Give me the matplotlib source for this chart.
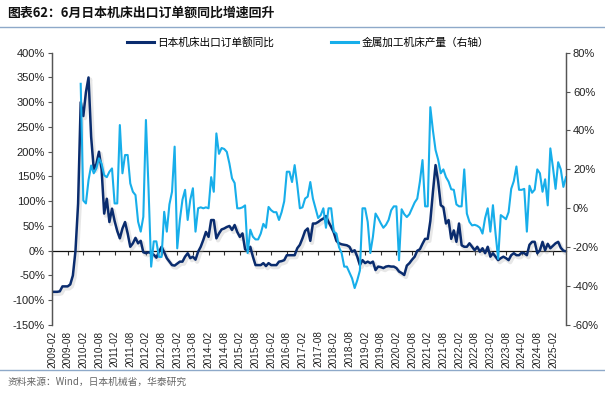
import numpy as np
import pandas as pd
import matplotlib
matplotlib.use("Agg")
import matplotlib.pyplot as plt
import matplotlib.patheffects as pe
from matplotlib.lines import Line2D

plt.rcParams['font.family'] = ['Liberation Sans', 'Noto Sans CJK SC', 'DejaVu Sans']

# ---------------- data (monthly, from 2009-02) ----------------
months = pd.period_range("2009-02", periods=198, freq="M").strftime("%Y-%m").tolist()

# 日本机床出口订单额同比 (%), left axis
orders_yoy = [
    -83, -83, -83, -82, -72, -72, -72, -68, -50, 0, 95,            # 2009-02..2009-12
    300, 272, 320, 350, 230, 165, 175, 200, 165, 75, 105, 58,      # 2010
    85, 60, 40, 25, 45, 58, 35, 8, 15, 26, 15, 20,                 # 2011
    -3, -5, -3, -5, -8, -14, -2, 8, -3, -15, -22, -29,             # 2012
    -30, -26, -22, -22, -12, -5, -15, -12, -18, -2, 8, 22,         # 2013
    38, 28, 62, 62, 25, 35, 43, 45, 48, 50, 42, 52,                # 2014
    38, 28, 35, 3, 0, 8, -12, -29, -29, -29, -25, -31,             # 2015
    -25, -29, -29, -29, -22, -21, -19, -9, -9, -9, -9, 5,          # 2016
    12, 25, 40, 45, 20, 55, 55, 58, 62, 65, 70, 58,                # 2017
    48, 37, 20, 15, 13, 12, 11, 8, -2, 1, -12, -29,                # 2018
    -19, -25, -22, -25, -22, -39, -32, -33, -35, -32, -31, -32,    # 2019
    -32, -35, -42, -45, -49, -30, -25, -18, -12, 0, 3, 14,         # 2020
    24, 24, 60, 119, 173, 140, 92, 88, 55, 62, 24, 41,             # 2021
    18, 55, 11, 8, 8, 15, 8, 1, 8, -2, 5, -5,                      # 2022
    8, -12, -5, -12, -19, -15, -12, -15, -19, -9, -5, -9,          # 2023
    -9, -4, -5, -9, 12, 18, 18, -5, 1, 18, 1, 14,                  # 2024
    5, 10, 15, 18, 6, 0, -1,                                       # 2025
]

# 金属加工机床产量同比 (%), right axis
output_yoy = [
    np.nan, np.nan, np.nan, np.nan, np.nan, np.nan, np.nan, np.nan, np.nan, np.nan, np.nan,
    64, 4, 2.5, 14.5, 22, 18, 20.5, 25.7, 23, 17, 16, 18.8,
    20.5, 2.5, 2.5, 42.8, 18, 27.4, 27.4, 12.8, 8.5, 6.8, -6.9, -12,
    -4.4, 45.4, 10, -30, -17, -17, -25, -25, -1.8, -12, 2, 8.5,
    31.7, -20.6, -6, 4.4, 9.5, -6, 4.4, 10.3, -12, 0, 0.5, 0,
    0.5, 0, 16, 8.5, 38.5, 28, 31, 30.5, 29, 23, 15.4, 13,
    0, 0, 0.5, 1.5, -23, -11, -14.6, -16, -16, -13, -8, -10,
    0.7, -1, -2, -2, -6, -2, 3.6, 18.8, 18.8, 13.5, 22.2, 12,
    0, 0.5, 5, 6, 13.5, 5, 0, -5, -3.5, 0, -10, 0,
    0, -12, -13, -20, -23, -30, -30, -33, -36, -41, -37, -32,
    0, 0, -7, -23, -14.6, -2.7, -5, -7.7, -10, -8.5, -6, -1,
    1, 1, -26.7, -0.5, -3, -4.5, -3, 0, 3, 5, 13.7, 24.8,
    1, 1, 52, 40, 30, 25, 18, 20, 16, 13.7, 9.8, 9.5,
    2, 1, 1, 20, -2.7, -7, -8.8, -8.5, -9, -10, -13, -5,
    0, -12, 1.6, -13, -26, -3.5, -4.5, -5.6, -2, 10, 14, 21.5,
    9.5, 9.5, 10, -12, 11.6, 8, 9.6, 20, 18, 8.5, 14.9, 1.5,
    30.8, 21, 10, 23.7, 20, 11, 16,
]

left_ticks = list(range(-150, 401, 50))
right_ticks = list(range(-60, 81, 20))
label_idx = list(range(0, 193, 6))

navy = "#0A2C6E"
sky = "#17AEEA"

# ---------------- figure ----------------
fig = plt.figure(figsize=(6.05, 3.93), dpi=100)
ax = fig.add_axes([52 / 605, 1 - 325 / 393, (566 - 52) / 605, (325 - 52.7) / 393])
axr = ax.twinx()

x = np.arange(len(months))
ax.plot(x, orders_yoy, color=navy, lw=1.8, solid_joinstyle="round",
        path_effects=[pe.SimpleLineShadow(offset=(1.2, -1.5), shadow_color="#b0b0b0", alpha=0.3,
                                          linewidth=3.0),
                      pe.Normal()], zorder=3)
axr.plot(x, output_yoy, color=sky, lw=1.5, solid_joinstyle="round", zorder=3)

ax.set_xlim(0, len(months) - 1)
ax.set_ylim(-150, 400)
axr.set_ylim(-60, 80)

ax.set_yticks(left_ticks)
ax.set_yticklabels([f"{v}%" for v in left_ticks])
axr.set_yticks(right_ticks)
axr.set_yticklabels([f"{v}%" for v in right_ticks])

ax.set_xticks(label_idx)
ax.set_xticklabels([months[i] for i in label_idx], rotation=90, fontsize=7.2, color="#222222")
ax.tick_params(axis="x", length=0, pad=4)
ax.tick_params(axis="y", labelsize=8, length=3, width=0.8, color="#555555", labelcolor="#222222", pad=2)
axr.tick_params(axis="y", labelsize=8, length=3, width=0.8, color="#555555", labelcolor="#222222", pad=2)

for a in (ax, axr):
    a.spines["top"].set_visible(False)
    a.spines["bottom"].set_visible(False)
    a.spines["left"].set_color("#555555")
    a.spines["right"].set_color("#555555")
    a.spines["left"].set_linewidth(0.9)
    a.spines["right"].set_linewidth(0.9)

# category axis crossing at 0 on the left axis
zero_ax = ax.secondary_xaxis(150 / 550)
zero_ax.set_xticks(label_idx)
zero_ax.set_xticklabels([])
zero_ax.tick_params(length=3, width=0.8, color="#333333", direction="out")
zero_ax.spines["bottom"].set_color("#111111")
zero_ax.spines["bottom"].set_linewidth(0.9)

# ---------------- texts ----------------
fig.text(0.012, 1 - 13 / 393, "图表62：6月日本机床出口订单额同比增速回升",
         fontsize=9.3, fontweight="bold", family=["Noto Sans CJK SC", "DejaVu Sans"],
         va="center", ha="left", color="#111111")
fig.add_artist(Line2D([0.0, 1.0], [1 - 27 / 393, 1 - 27 / 393], transform=fig.transFigure,
                      color="#8EA9C9", lw=1.0))
fig.add_artist(Line2D([0.0, 1.0], [1 - 370 / 393, 1 - 370 / 393], transform=fig.transFigure,
                      color="#8EA9C9", lw=1.0))
fig.text(0.012, 1 - 382 / 393, "资料来源：Wind，日本机械省，华泰研究",
         fontsize=7, family=["Noto Sans CJK SC", "DejaVu Sans"], color="#666666",
         va="center", ha="left")

handles = [Line2D([], [], color=navy, lw=2.2), Line2D([], [], color=sky, lw=2.2)]
fig.legend(handles, ["日本机床出口订单额同比", "金属加工机床产量（右轴）"],
           loc="center", bbox_to_anchor=(0.509, 1 - 42 / 393), ncol=2, frameon=False,
           prop={"family": ["Noto Sans CJK SC", "DejaVu Sans"], "size": 7.7},
           handlelength=2.5, handletextpad=0.35, columnspacing=5.3, borderaxespad=0)

fig.savefig("out.png", dpi=100)
